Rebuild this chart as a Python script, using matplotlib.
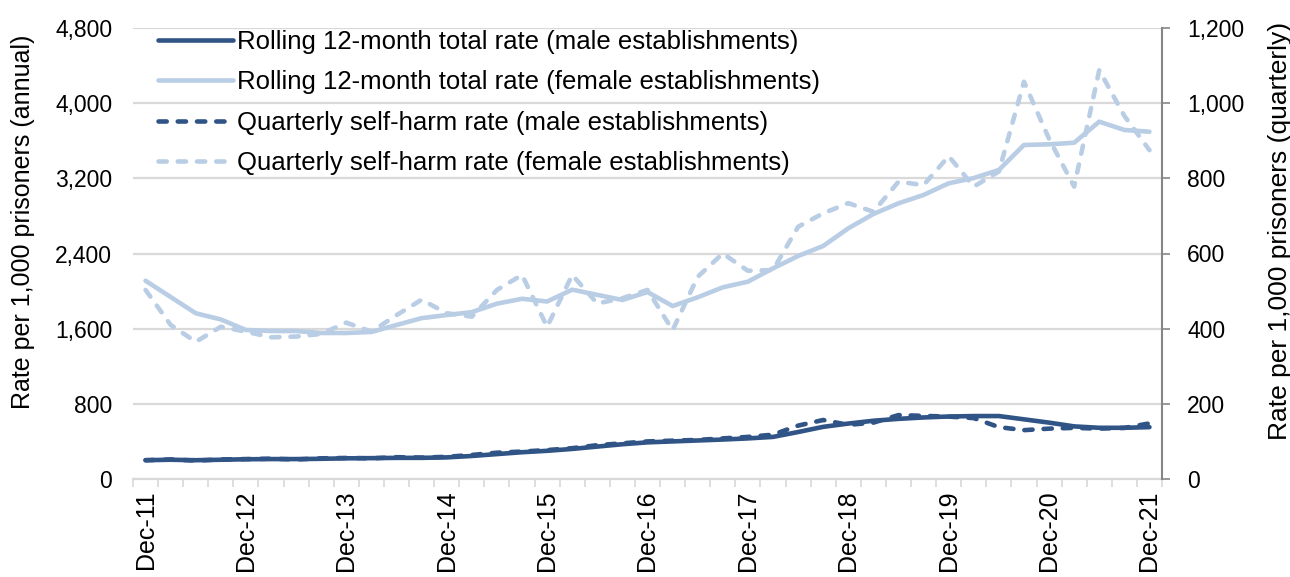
import numpy as np
import matplotlib
matplotlib.use("Agg")
from matplotlib import pyplot as plt

plt.rcParams['font.family'] = ['Liberation Sans', 'DejaVu Sans']

# quarters Dec-11 .. Dec-21
years = list(range(11, 22))
tick_labels = ['Dec-%d' % y for y in years]

# rolling 12-month rates (annual, left axis)
male_rolling = [200, 205, 200, 205, 210, 212, 212, 215, 220, 222,
                225, 225, 230, 245, 265, 285, 300, 320, 345, 370,
                390, 400, 410, 420, 432, 448, 500, 555, 590, 620,
                640, 655, 665, 670, 670, 635, 600, 560, 545, 545, 552]
female_rolling = [2110, 1937, 1764, 1698, 1586, 1575, 1575, 1554, 1554, 1565,
                  1639, 1712, 1745, 1776, 1866, 1918, 1889, 2015, 1960, 1905,
                  1990, 1841, 1934, 2040, 2100, 2242, 2373, 2480, 2668, 2820,
                  2934, 3023, 3147, 3203, 3289, 3555, 3562, 3579, 3803, 3715, 3696]

# quarterly rates (right axis)
male_quarterly = [50, 52, 49, 52, 53, 54, 52, 55, 56, 55,
                  58, 57, 59, 64, 70, 73, 77, 82, 90, 95,
                  100, 102, 104, 108, 112, 118, 142, 157, 144, 150,
                  170, 168, 166, 162, 138, 130, 134, 136, 134, 136, 148]
female_quarterly = [503, 410, 365, 405, 392, 377, 379, 386, 416, 392,
                    436, 477, 441, 432, 503, 543, 405, 543, 467, 481,
                    503, 396, 538, 600, 554, 556, 671, 707, 734, 711,
                    791, 782, 859, 778, 818, 1057, 905, 778, 1088, 966, 875]

x = np.arange(len(male_rolling))

male_col = '#2F5485'
female_col = '#B9CDE5'
grid_col = '#D9D9D9'

fig = plt.figure(figsize=(12.9, 5.77), dpi=100)
ax = fig.add_axes([133 / 1290, 1 - 479 / 577, (1162 - 133) / 1290, (479 - 28) / 577])
ax2 = ax.twinx()

lw = 3.3
l1, = ax.plot(x, male_rolling, color=male_col, lw=lw, solid_capstyle='round',
              label='Rolling 12-month total rate (male establishments)')
l2, = ax.plot(x, female_rolling, color=female_col, lw=lw, solid_capstyle='round',
              label='Rolling 12-month total rate (female establishments)')
l3, = ax2.plot(x, male_quarterly, color=male_col, lw=lw, dashes=(1.8, 2.4),
               dash_capstyle='round', label='Quarterly self-harm rate (male establishments)')
l4, = ax2.plot(x, female_quarterly, color=female_col, lw=lw, dashes=(1.8, 2.4),
               dash_capstyle='round', label='Quarterly self-harm rate (female establishments)')

ax.set_xlim(-0.5, len(x) - 0.5)
ax.set_ylim(0, 4800)
ax2.set_ylim(0, 1200)
ax.set_yticks(np.arange(0, 4801, 800))
ax.set_yticklabels(['{:,}'.format(v) for v in range(0, 4801, 800)])
ax2.set_yticks(np.arange(0, 1201, 200))
ax2.set_yticklabels(['{:,}'.format(v) for v in range(0, 1201, 200)])

ax.grid(axis='y', color=grid_col, lw=1.6)
ax.set_axisbelow(True)

# category boundaries as tick marks, Dec labels as minor ticks
ax.set_xticks(np.arange(-0.5, len(x), 1))
ax.set_xticklabels([])
ax.set_xticks(x[::4], minor=True)
ax.set_xticklabels(tick_labels, minor=True, rotation=90)
ax.tick_params(axis='x', which='major', length=6, width=1.2, color=grid_col)
ax.tick_params(axis='x', which='minor', length=0, pad=8, labelsize=18)
ax.tick_params(axis='y', length=0, pad=15, labelsize=16.5)
ax2.tick_params(axis='y', length=6, width=1.2, color='#868686', pad=12, labelsize=16.5)

for s in ['top', 'left', 'right']:
    ax.spines[s].set_visible(False)
ax.spines['bottom'].set_color(grid_col)
ax.spines['bottom'].set_linewidth(1.6)
for s in ['top', 'left', 'bottom']:
    ax2.spines[s].set_visible(False)
ax2.spines['right'].set_color('#868686')
ax2.spines['right'].set_linewidth(1.5)

ax.set_ylabel('Rate per 1,000 prisoners (annual)', fontsize=18, labelpad=14)
ax2.set_ylabel('Rate per 1,000 prisoners (quarterly)', fontsize=19, labelpad=17)
ax.yaxis.label.set_y(0.57)
ax2.yaxis.label.set_y(0.55)

ax.legend(handles=[l1, l2, l3, l4], loc='upper left', bbox_to_anchor=(0.0146, 1.019),
          frameon=False, fontsize=18.5, handlelength=2.9, handletextpad=0.15,
          labelspacing=0.64, borderaxespad=0.0)

fig.savefig('out.png', dpi=100)
